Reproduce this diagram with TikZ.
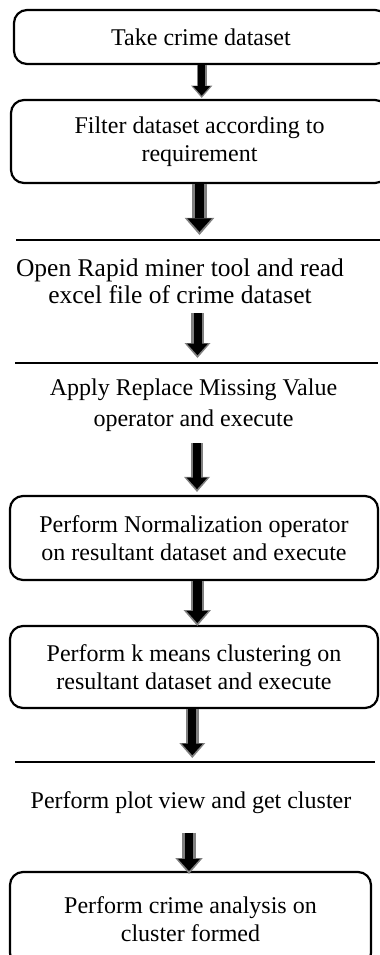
\documentclass[tikz,border=0pt]{standalone}
\usepackage{fontspec}
\setmainfont{Liberation Serif}
\usetikzlibrary{arrows.meta}

\def\fonte{\fontsize{12}{13.8}\selectfont}

\tikzset{
  caixa/.style={draw, line width=1.1pt, rounded corners=6.5pt, align=center, inner sep=0pt, font=\fonte},
  texto/.style={align=center, inner sep=0pt, font=\fonte},
  linha/.style={line width=1pt},
  seta/.style 2 args={black, line width=#2*4pt, shorten >=#1+#2*1.4pt,
    -{Triangle[length=5.8pt,width=10.5pt,line width=0pt,scale=#2]},
    preaction={draw=gray, line width=#2*6.2pt, shorten >=#1,
      -{Triangle[length=7.5pt,width=13pt,line width=0pt,scale=#2]}}}
}

\begin{document}
\begin{tikzpicture}[x=0.5pt,y=-0.5pt]
\clip (0,0) rectangle (380,955);

%caixas e textos
    \node[caixa, minimum width=187pt, minimum height=27pt] (dataset) at (201,37) {Take crime dataset};
    \node[caixa, minimum width=188.5pt, minimum height=41.5pt] (filtro) at (199.5,141.5) {Filter dataset according to\\requirement};
    \node[texto, font=\fontsize{12.75}{13.6}\selectfont] (rapid) at (180,281.6) {Open Rapid miner tool and read\\excel file of crime dataset};
    \node[texto] (missing) at (193.5,404.9) {Apply Replace Missing Value\\[1.7pt]operator and execute};
    \node[caixa, minimum width=184pt, minimum height=42pt] (normal) at (194,538) {Perform Normalization operator\\on resultant dataset and execute};
    \node[caixa, minimum width=184pt, minimum height=41pt] (kmeans) at (194,667) {Perform k means clustering on\\resultant dataset and execute};
    \node[texto] (plot) at (191,802.4) {Perform plot view and get cluster};
    \node[caixa, minimum width=180.5pt, minimum height=47pt] (analise) at (190.5,919) {Perform crime analysis on\\cluster formed};

%linhas
    \coordinate (l3) at (16,240);
    \draw[linha] (l3) -- (380,240);
    \coordinate (l4) at (15,363);
    \draw[linha] (l4) -- (378,363);
    \coordinate (l7) at (15,762);
    \draw[linha] (l7) -- (375,762);

%setas
    \draw[seta={0.5pt}{0.82}] ([xshift=0.35pt]dataset.south) -- ([xshift=0.35pt]dataset.south |- filtro.north);
    \draw[seta={2.5pt}{1.15}] (filtro.south) -- (filtro.south |- l3);
    \draw[seta={2.5pt}{1}, shorten <=4.2pt] ([xshift=8.75pt]rapid.south) -- ([xshift=8.75pt]rapid.south |- l4);
    \draw[seta={1.5pt}{1}, shorten <=5.9pt] ([xshift=1.75pt]missing.south) -- ([xshift=1.75pt]missing.south |- normal.north);
    \draw[seta={-0.5pt}{1.05}] ([xshift=1.65pt]normal.south) -- ([xshift=1.65pt]normal.south |- kmeans.north);
    \draw[seta={2pt}{1}] ([xshift=-0.85pt]kmeans.south) -- ([xshift=-0.85pt]kmeans.south |- l7);
    \draw[seta={-1.5pt}{1.05}, shorten <=9.4pt] ([xshift=-1pt]plot.south) -- ([xshift=-1pt]plot.south |- analise.north);

\end{tikzpicture}
\end{document}
